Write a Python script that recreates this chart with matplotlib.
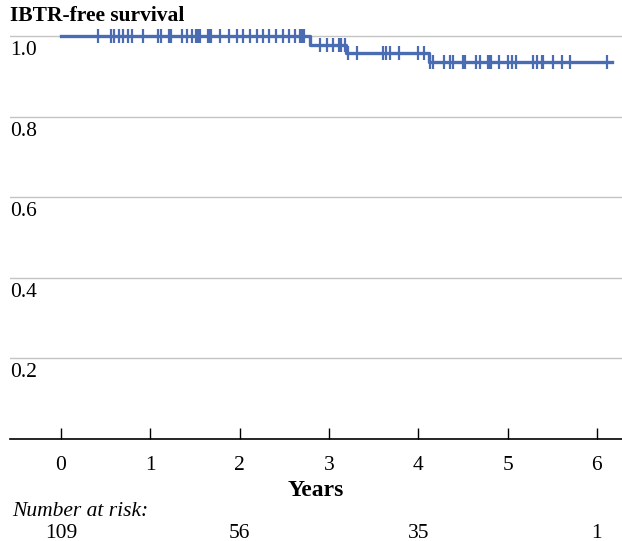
import matplotlib
matplotlib.use("Agg")
import matplotlib.pyplot as plt
import matplotlib.transforms as mtransforms
import numpy as np

# Kaplan-Meier step data
step_times = [0.0, 2.79, 3.19, 4.12, 6.17]
step_surv = [1.0, 0.978, 0.958, 0.935, 0.935]

censor_times = [
    0.41, 0.56, 0.59, 0.65, 0.69, 0.75, 0.80, 0.92, 1.09, 1.12, 1.21, 1.23,
    1.35, 1.41, 1.47, 1.51, 1.53, 1.56, 1.65, 1.66, 1.68, 1.78, 1.88, 1.97,
    2.04, 2.12, 2.19, 2.26, 2.33, 2.41, 2.49, 2.55, 2.62, 2.68, 2.70, 2.72,
    2.90, 2.98, 3.05, 3.11, 3.14, 3.18,
    3.21, 3.31, 3.60, 3.64, 3.68, 3.79, 4.00, 4.06,
    4.13, 4.16, 4.29, 4.36, 4.39, 4.50, 4.52, 4.65, 4.69, 4.78, 4.80, 4.82,
    4.90, 5.00, 5.05, 5.09, 5.28, 5.33, 5.38, 5.40, 5.51, 5.61, 5.70, 6.11,
]

x_ticks = [0, 1, 2, 3, 4, 5, 6]
y_ticks = [0.2, 0.4, 0.6, 0.8, 1.0]
y_labels = ["0.2", "0.4", "0.6", "0.8", "1.0"]

risk_times = [0, 2, 4, 6]
risk_counts = ["109", "56", "35", "1"]

BLUE = "#4a6cb3"
GRID = "#c4c4c4"

plt.rcParams["font.family"] = ["Liberation Serif", "DejaVu Serif"]

fig = plt.figure(figsize=(6.22, 5.41), dpi=100)
ax = fig.add_axes([0.0161, 0.1885, 0.984, 0.767])

# survival value at each censor time
idx = np.searchsorted(step_times, censor_times, side="right") - 1
censor_surv = np.array(step_surv)[idx]

ax.step(step_times, step_surv, where="post", color=BLUE, lw=2.4, clip_on=False)
ax.plot(censor_times, censor_surv, linestyle="none", marker="|",
        markersize=10.5, mew=1.6, color=BLUE, clip_on=False)

ax.set_xlim(-0.571, 6.282)
ax.set_ylim(0, 1.03)

ax.set_yticks(y_ticks)
ax.set_yticklabels([])
ax.tick_params(axis="y", length=0)
ax.yaxis.grid(True, color=GRID, linewidth=1.0)
ax.set_axisbelow(True)

trans = mtransforms.blended_transform_factory(ax.transAxes, ax.transData)
for v, lab in zip(y_ticks, y_labels):
    ax.text(0.0, v - 0.012, lab, transform=trans, ha="left", va="top",
            fontsize=15.5)

ax.set_xticks(x_ticks)
ax.set_xticklabels([str(t) for t in x_ticks], fontsize=15.5)
ax.tick_params(axis="x", direction="in", length=8, width=1, pad=12)

for side in ["top", "right", "left"]:
    ax.spines[side].set_visible(False)
ax.spines["bottom"].set_linewidth(1.2)

fig.text(0.016, 1 - 16 / 541, "IBTR-free survival", fontsize=15.5,
         fontweight="bold", ha="left", va="center")

ax.set_xlabel("Years", fontsize=17, fontweight="bold", labelpad=4)

xtrans = mtransforms.blended_transform_factory(ax.transData, fig.transFigure)
fig.text(0.019, 1 - 512 / 541, "Number at risk:", fontsize=15.5,
         style="italic", ha="left", va="center")
for t, n in zip(risk_times, risk_counts):
    fig.text(t, 1 - 533 / 541, n, transform=xtrans, fontsize=15.5,
             ha="center", va="center")

fig.savefig("out.png", dpi=100)
